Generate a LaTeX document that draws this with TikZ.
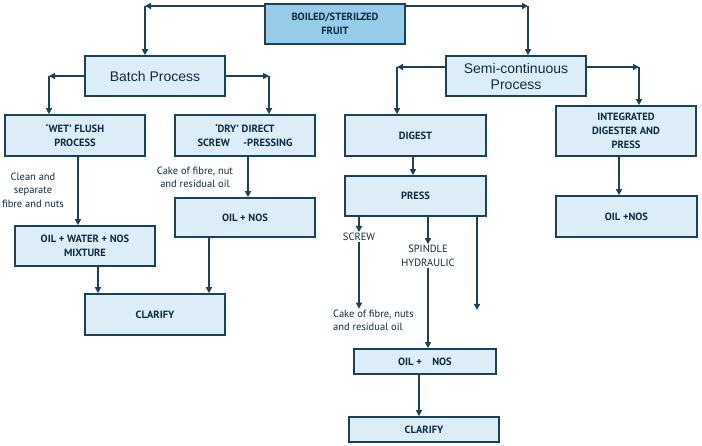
\documentclass[tikz,border=0pt]{standalone}
\usepackage{fontspec}
\setmainfont{PT Sans}
\newfontfamily\arialfont{Liberation Sans}
\usetikzlibrary{arrows.meta,positioning}
\definecolor{boxline}{RGB}{26,66,90}
\definecolor{boxfill}{RGB}{221,237,247}
\definecolor{topfill}{RGB}{152,203,232}
\definecolor{inktext}{RGB}{12,44,68}

\tikzset{
  procbox/.style={draw=boxline, line width=1.7pt, fill=boxfill,
    minimum width=140pt, minimum height=40pt, align=center,
    text=inktext, inner sep=2pt, font=\bfseries\fontsize{10.5}{14}\selectfont},
  bigbox/.style={procbox, font=\arialfont\fontsize{14}{16}\selectfont},
  link/.style={draw=boxline, line width=1.7pt, -{Triangle[length=6pt,width=6pt]}},
  note/.style={align=center, text=inktext, inner sep=1pt,
    font=\fontsize{10.5}{13.5}\selectfont}
}

\begin{document}
\begin{tikzpicture}[x=1pt,y=-1pt]
  \useasboundingbox (0,0) rectangle (702,446);

  % boxes
  \node[procbox, fill=topfill] (boiled) at (335,24) {BOILED/STERILZED\\FRUIT};
  \node[bigbox] (batch) at (155,76) {Batch Process};
  \node[bigbox] (semi) at (516,76) {Semi-continuous\\Process};

  \node[procbox, minimum height=41pt] (wet) at (75,135.5) {`WET' FLUSH\\PROCESS};
  \node[procbox, minimum height=41pt] (dry) at (245,135.5) {`DRY' DIRECT\\SCREW\hspace{1.3em}-PRESSING};
  \node[procbox] (mix) at (85,246) {OIL + WATER + NOS\\MIXTURE};
  \node[procbox, minimum height=39pt] (oilL) at (245,217.5) {OIL + NOS};
  \node[procbox, minimum height=41pt] (clarL) at (155,314.5) {CLARIFY};

  \node[procbox, minimum width=141pt, minimum height=41pt] (digest) at (415.5,135.5) {DIGEST};
  \node[procbox, minimum width=141pt] (press) at (415.5,196) {PRESS};
  \node[procbox, minimum width=142pt, minimum height=25pt] (oilM) at (425,361.5) {OIL +\hspace{1em}NOS};
  \node[procbox, minimum width=150pt, minimum height=25pt] (clarM) at (424,429.5) {CLARIFY};

  \node[procbox, minimum height=50pt] (integ) at (626,131) {INTEGRATED\\DIGESTER AND\\PRESS};
  \node[procbox, minimum width=141pt, minimum height=41pt] (oilR) at (626.5,216.5) {OIL +NOS};

  % labels
  \node[note] (clean) at (33,190) {Clean and\\separate\\fibre and nuts};
  \node[note] (cakeL) at (195,177.5) {Cake of fibre, nut\\and residual oil};
  \node[note] (screw) at (359,237) {SCREW};
  \node[note] (spindle) at (428,256) {SPINDLE\\HYDRAULIC};
  \node[note, align=left, anchor=west] (cakeM) at (332,320.5) {Cake of fibre, nuts\\and residual oil};

  % top split
  \coordinate (bl) at (145,6);
  \coordinate (br) at (528,6);
  \draw[link] (boiled.west |- bl) -- (bl);
  \draw[link] (bl) -- (batch.north -| bl);
  \draw[link] (boiled.east |- br) -- (br);
  \draw[link] (br) -- (semi.north -| br);

  % batch split
  \coordinate (bwl) at (49,76);
  \coordinate (bwr) at (269,76);
  \draw[link] (batch.west) -- (bwl);
  \draw[link] (bwl) -- (wet.north -| bwl);
  \draw[link] (batch.east) -- (bwr);
  \draw[link] (bwr) -- (dry.north -| bwr);

  % semi split
  \coordinate (swl) at (397,67);
  \coordinate (swr) at (639,67);
  \draw[link] (semi.west |- swl) -- (swl);
  \draw[link] (swl) -- (digest.north -| swl);
  \draw[link] (semi.east |- swr) -- (swr);
  \draw[link] (swr) -- (integ.north -| swr);

  % batch side
  \draw[link] ([xshift=3pt]wet.south) -- ([xshift=-7pt]mix.north);
  \draw[link] ([xshift=3pt]dry.south) -- ([xshift=3pt]oilL.north);
  \draw[link] ([xshift=13pt]mix.south) -- ([xshift=-57pt]clarL.north);
  \draw[link] ([xshift=-36pt]oilL.south) -- ([xshift=54pt]clarL.north);

  % semi-continuous side
  \draw[link] ([xshift=-2.5pt]digest.south) -- ([xshift=-2.5pt]press.north);
  \draw[link] (press.south -| screw) -- (screw.north);
  \draw[link] (screw.south) -- (cakeM.north -| screw);
  \draw[link] (press.south -| spindle) -- (spindle.north);
  \draw[link] (spindle.south) -- (oilM.north -| spindle);
  \coordinate (pend) at (477,310);
  \draw[link] (press.south -| pend) -- (pend);
  \draw[link] ([xshift=-6pt]oilM.south) -- ([xshift=-5pt]clarM.north);
  \draw[link] ([xshift=-7pt]integ.south) -- ([xshift=-7.5pt]oilR.north);
\end{tikzpicture}
\end{document}
